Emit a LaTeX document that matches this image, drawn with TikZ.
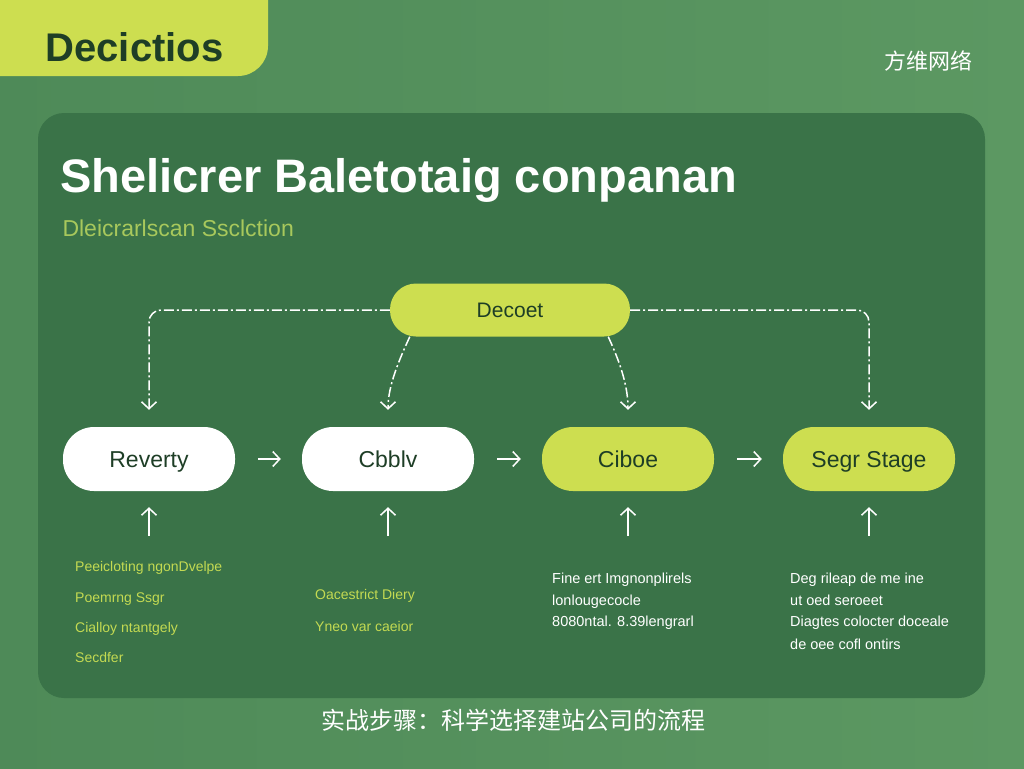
\documentclass[tikz,border=0pt]{standalone}
\usepackage{fontspec}
\setmainfont{Liberation Sans}
\newfontfamily\cjkfont{Noto Sans CJK SC}
\usetikzlibrary{arrows.meta}

\definecolor{bgleft}{RGB}{78,138,88}
\definecolor{bgright}{RGB}{92,152,98}
\definecolor{panelgreen}{RGB}{58,115,72}
\definecolor{limegreen}{RGB}{205,222,80}
\definecolor{darkgreen}{RGB}{30,62,38}
\definecolor{softlime}{RGB}{168,200,92}
\definecolor{notelime}{RGB}{196,218,82}

\begin{document}
\begin{tikzpicture}[x=1pt,y=-1pt,
			pill/.style={rounded corners=31pt, minimum width=172pt, minimum height=64pt, text height=17pt, text depth=1pt, text=darkgreen, font=\fontsize{23}{26}\selectfont},
			whitepill/.style={pill, fill=white},
			limepill/.style={pill, fill=limegreen},
			note/.style={anchor=base west, inner sep=0pt, font=\fontsize{14}{16}\selectfont},
			arrow/.style={-{Straight Barb[length=7pt,width=15pt]}, white, line width=1.5pt},
			dasharrow/.style={arrow, dash pattern=on 10pt off 3pt on 2pt off 3pt, rounded corners=12pt}
			]
			\useasboundingbox (0,0) rectangle (1024,768);
			
			% Background
			\shade[left color=bgleft, right color=bgright] (0,0) rectangle (1024,768);
			\fill[limegreen, rounded corners=30pt] (-40,-40) rectangle (268,76);
			\fill[limegreen] (-5,-5) rectangle (200,20);
			\fill[panelgreen, rounded corners=26pt] (38,113) rectangle (985,698);
			
			% Texts
			\node[anchor=west, text=darkgreen, font=\fontsize{40}{42}\selectfont\bfseries] (tab) at (42,47) {Decictios};
			\node[text=white, font=\cjkfont\fontsize{22}{24}\selectfont] (mark) at (928,61) {方维网络};
			\node[anchor=west, text=white, font=\fontsize{47}{50}\selectfont\bfseries] (title) at (57,180) {Shelicrer Baletotaig conpanan};
			\node[anchor=west, text=softlime, font=\fontsize{23}{26}\selectfont] (subtitle) at (59,228) {Dleicrarlscan Ssclction};
			\node[text=white, font=\cjkfont\fontsize{24}{26}\selectfont] (caption) at (513,720) {实战步骤：科学选择建站公司的流程};
			
			% Nodes
			\node[limepill, minimum width=240pt, minimum height=53pt, rounded corners=26pt, text height=15pt, font=\fontsize{21}{24}\selectfont] (decoet) at (510,310) {Decoet};
			\node[whitepill] (reverty) at (149,459) {Reverty};
			\node[whitepill] (cbblv) at (388,459) {Cbblv};
			\node[limepill] (ciboe) at (628,459) {Ciboe};
			\node[limepill] (segr) at (869,459) {Segr Stage};
			
			% Between the stages
			\draw[arrow, shorten <=23pt, shorten >=21pt] (reverty) -- (cbblv);
			\draw[arrow, shorten <=23pt, shorten >=21pt] (cbblv) -- (ciboe);
			\draw[arrow, shorten <=23pt, shorten >=21pt] (ciboe) -- (segr);
			
			% From Decoet down
			\draw[dasharrow, shorten >=17pt] (decoet.west) -| (reverty.north);
			\draw[dasharrow, shorten >=17pt] (decoet.east) -| (segr.north);
			\draw[dasharrow, shorten >=17pt] ([xshift=20pt]decoet.south west) to[out=-115, in=90] (cbblv.north);
			\draw[dasharrow, shorten >=17pt] ([xshift=-22pt]decoet.south east) to[out=-65, in=90] (ciboe.north);
			
			% Up arrows
			\draw[arrow] ([yshift=-45pt]reverty.south) -- ([yshift=-16pt]reverty.south);
			\draw[arrow] ([yshift=-45pt]cbblv.south) -- ([yshift=-16pt]cbblv.south);
			\draw[arrow] ([yshift=-45pt]ciboe.south) -- ([yshift=-16pt]ciboe.south);
			\draw[arrow] ([yshift=-45pt]segr.south) -- ([yshift=-16pt]segr.south);
			
			% Notes
			\node[note, text=notelime] (r1) at (75,571) {Peeicloting ngonDvelpe};
			\node[note, text=notelime] (r2) at (75,602) {Poemrng Ssgr};
			\node[note, text=notelime] (r3) at (75,632) {Cialloy ntantgely};
			\node[note, text=notelime] (r4) at (75,662) {Secdfer};
			\node[note, text=notelime] (c1) at (315,599) {Oacestrict Diery};
			\node[note, text=notelime] (c2) at (315,631) {Yneo var caeior};
			\node[note, text=white, font=\fontsize{14.5}{16}\selectfont] (i1) at (552,583) {Fine ert Imgnonplirels};
			\node[note, text=white, font=\fontsize{14.5}{16}\selectfont] (i2) at (552,605) {lonlougecocle};
			\node[note, text=white, font=\fontsize{14.5}{16}\selectfont] (i3) at (552,626) {8080ntal. 8.39lengrarl};
			\node[note, text=white, font=\fontsize{14.5}{16}\selectfont] (s1) at (790,583) {Deg rileap de me ine};
			\node[note, text=white, font=\fontsize{14.5}{16}\selectfont] (s2) at (790,605) {ut oed seroeet};
			\node[note, text=white, font=\fontsize{14.5}{16}\selectfont] (s3) at (790,626) {Diagtes colocter doceale};
			\node[note, text=white, font=\fontsize{14.5}{16}\selectfont] (s4) at (790,649) {de oee cofl ontirs};
		\end{tikzpicture}
\end{document}
